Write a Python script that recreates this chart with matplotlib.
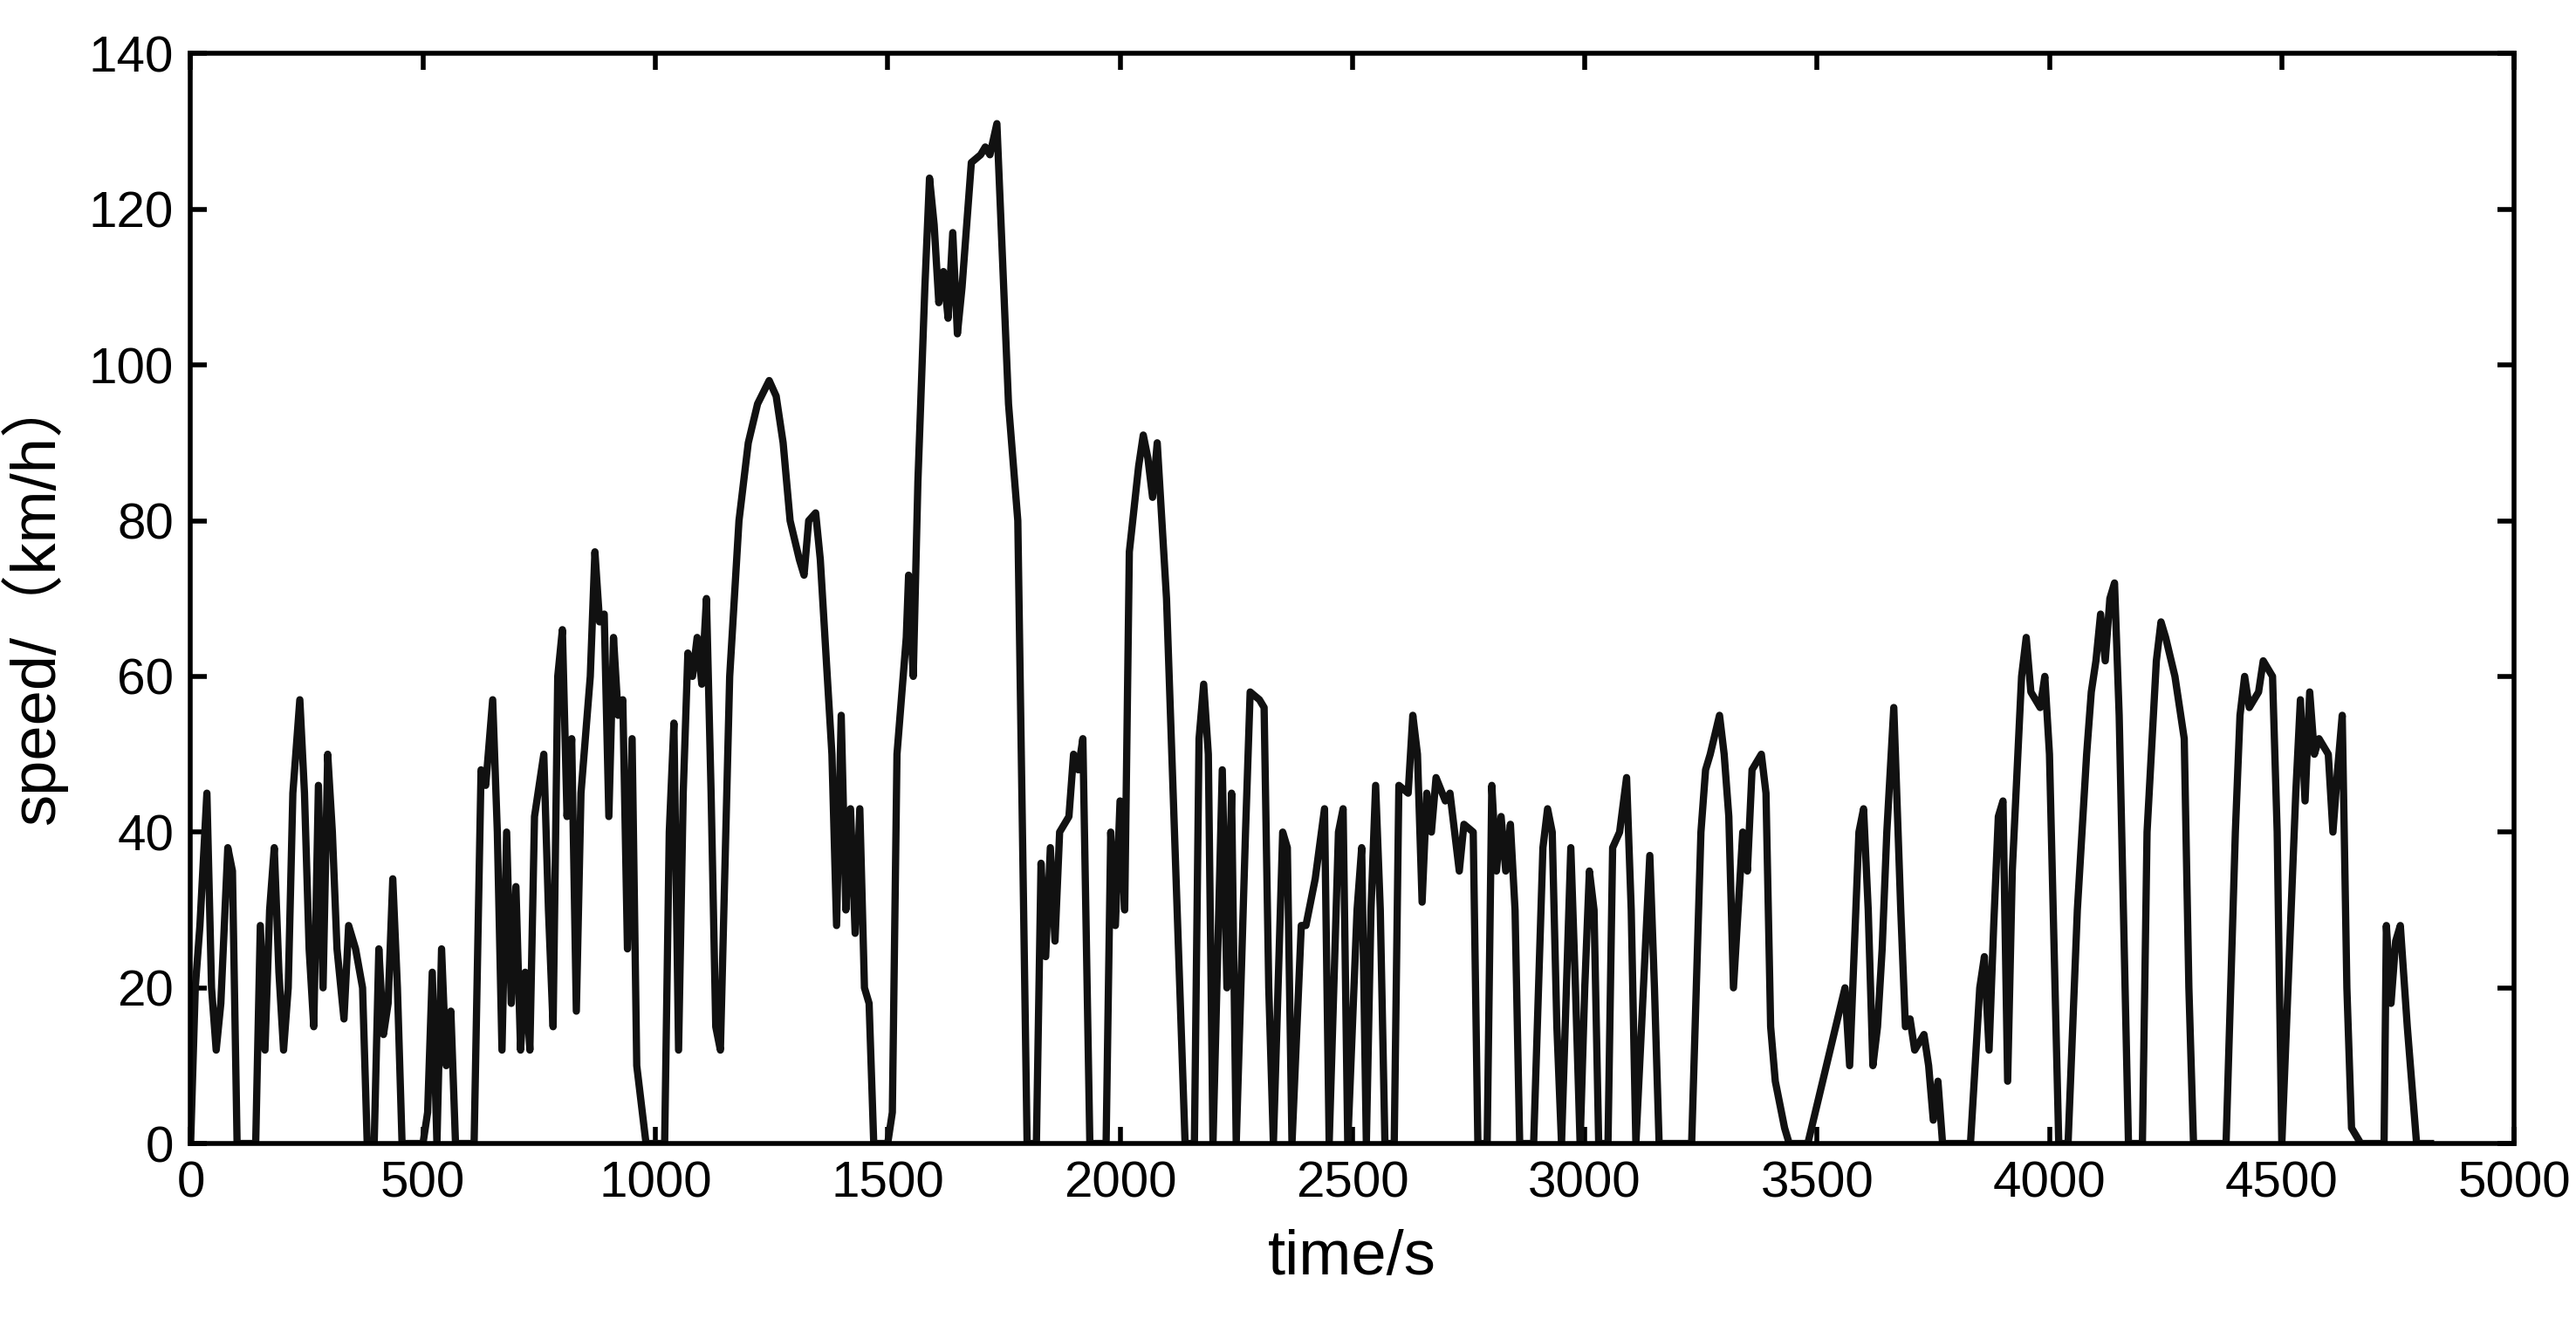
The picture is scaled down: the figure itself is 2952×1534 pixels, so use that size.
import matplotlib
matplotlib.use("Agg")
import matplotlib.pyplot as plt

time_s = [0, 10, 20, 35, 45, 55, 65, 80, 90, 100, 140, 150, 160, 170, 180, 190, 200, 210, 220, 235, 245, 255, 265, 275, 285, 295, 305, 315, 330, 340, 355, 370, 380, 395, 405, 415, 425, 435, 445, 455, 500, 510, 520, 530, 540, 550, 560, 570, 610, 625, 635, 650, 660, 670, 680, 690, 700, 710, 720, 730, 740, 760, 770, 780, 790, 800, 810, 820, 830, 840, 860, 870, 880, 890, 900, 910, 920, 930, 940, 950, 960, 980, 1020, 1030, 1040, 1050, 1060, 1070, 1080, 1090, 1100, 1110, 1120, 1130, 1140, 1160, 1180, 1200, 1220, 1245, 1260, 1275, 1290, 1310, 1320, 1330, 1345, 1355, 1370, 1380, 1390, 1400, 1410, 1420, 1430, 1440, 1450, 1460, 1470, 1500, 1510, 1520, 1540, 1545, 1555, 1565, 1580, 1590, 1600, 1610, 1620, 1630, 1640, 1650, 1660, 1680, 1700, 1710, 1720, 1735, 1760, 1780, 1790, 1800, 1820, 1830, 1840, 1850, 1860, 1870, 1890, 1900, 1910, 1920, 1935, 1970, 1980, 1990, 2000, 2010, 2020, 2040, 2050, 2060, 2070, 2080, 2090, 2100, 2120, 2140, 2160, 2170, 2180, 2190, 2200, 2220, 2230, 2240, 2250, 2270, 2280, 2300, 2310, 2320, 2330, 2350, 2360, 2370, 2390, 2400, 2420, 2440, 2450, 2470, 2480, 2490, 2510, 2520, 2530, 2540, 2550, 2560, 2570, 2590, 2600, 2620, 2630, 2640, 2650, 2660, 2670, 2680, 2700, 2710, 2720, 2730, 2740, 2760, 2770, 2790, 2800, 2810, 2820, 2830, 2840, 2850, 2860, 2890, 2910, 2920, 2930, 2940, 2950, 2970, 2980, 2990, 3000, 3010, 3020, 3030, 3050, 3060, 3075, 3090, 3100, 3110, 3140, 3150, 3160, 3230, 3250, 3260, 3270, 3290, 3300, 3310, 3320, 3330, 3340, 3350, 3360, 3380, 3390, 3400, 3410, 3430, 3440, 3480, 3500, 3520, 3540, 3560, 3570, 3580, 3590, 3600, 3610, 3620, 3630, 3640, 3650, 3665, 3680, 3690, 3700, 3710, 3730, 3740, 3750, 3760, 3770, 3830, 3850, 3860, 3870, 3880, 3890, 3900, 3910, 3920, 3940, 3950, 3960, 3980, 3990, 4000, 4020, 4040, 4060, 4080, 4090, 4100, 4110, 4120, 4130, 4140, 4150, 4170, 4200, 4210, 4230, 4240, 4250, 4270, 4290, 4300, 4310, 4380, 4400, 4410, 4420, 4430, 4450, 4460, 4480, 4490, 4500, 4520, 4530, 4540, 4550, 4560, 4570, 4580, 4600, 4610, 4620, 4630, 4640, 4650, 4670, 4720, 4725, 4735, 4745, 4755, 4770, 4790, 4820]
speed = [0, 20, 28, 45, 20, 12, 18, 38, 35, 0, 0, 28, 12, 30, 38, 22, 12, 20, 45, 57, 45, 25, 15, 46, 20, 50, 40, 25, 16, 28, 25, 20, 0, 0, 25, 14, 18, 34, 20, 0, 0, 4, 22, 0, 25, 10, 17, 0, 0, 48, 46, 57, 40, 12, 40, 18, 33, 12, 22, 12, 42, 50, 30, 15, 60, 66, 42, 52, 17, 45, 60, 76, 67, 68, 42, 65, 55, 57, 25, 52, 10, 0, 0, 40, 54, 12, 45, 63, 60, 65, 59, 70, 45, 15, 12, 60, 80, 90, 95, 98, 96, 90, 80, 75, 73, 80, 81, 75, 60, 50, 28, 55, 30, 43, 27, 43, 20, 18, 0, 0, 4, 50, 65, 73, 60, 85, 110, 124, 118, 108, 112, 106, 117, 104, 110, 126, 127, 128, 127, 131, 95, 80, 40, 0, 0, 36, 24, 38, 26, 40, 42, 50, 48, 52, 0, 0, 40, 28, 44, 30, 76, 87, 91, 88, 83, 90, 80, 70, 35, 0, 0, 52, 59, 50, 0, 48, 20, 45, 0, 40, 58, 57, 56, 20, 0, 40, 38, 0, 28, 28, 34, 43, 0, 40, 43, 0, 30, 38, 0, 30, 46, 30, 0, 0, 46, 45, 55, 50, 31, 45, 40, 47, 44, 45, 40, 35, 41, 40, 0, 0, 46, 35, 42, 35, 41, 30, 0, 0, 38, 43, 40, 15, 0, 38, 20, 0, 20, 35, 30, 0, 0, 38, 40, 47, 30, 0, 37, 20, 0, 0, 40, 48, 50, 55, 50, 42, 20, 30, 40, 35, 48, 50, 45, 15, 8, 2, 0, 0, 5, 10, 15, 20, 10, 25, 40, 43, 30, 10, 15, 25, 40, 56, 30, 15, 16, 12, 14, 10, 3, 8, 0, 0, 20, 24, 12, 28, 42, 44, 8, 35, 60, 65, 58, 56, 60, 50, 0, 0, 30, 50, 58, 62, 68, 62, 70, 72, 55, 0, 0, 40, 62, 67, 65, 60, 52, 20, 0, 0, 40, 55, 60, 56, 58, 62, 60, 40, 0, 30, 45, 57, 44, 58, 50, 52, 50, 40, 48, 55, 20, 2, 0, 0, 28, 18, 26, 28, 15, 0, 0]

x_ticks = [0, 500, 1000, 1500, 2000, 2500, 3000, 3500, 4000, 4500, 5000]
y_ticks = [0, 20, 40, 60, 80, 100, 120, 140]

plt.rcParams["font.family"] = ["Liberation Sans", "Noto Sans CJK SC", "DejaVu Sans"]

fig = plt.figure(figsize=(29.52, 15.34), dpi=100)
ax = fig.add_axes([0.074, 0.146, 0.902, 0.814])
ax.plot(time_s, speed, color="#111111", linewidth=6)
ax.set_xlim(0, 5000)
ax.set_ylim(0, 140)
ax.set_xticks(x_ticks)
ax.set_yticks(y_ticks)
ax.tick_params(direction="in", length=14, width=4, labelsize=42, top=True, right=True, pad=14)
for s in ax.spines.values():
    s.set_linewidth(4)
ax.set_xlabel("time/s", fontsize=52, labelpad=18)
ax.set_ylabel("speed/（km/h）", fontsize=52, labelpad=18)
fig.savefig("out.png", dpi=100)
